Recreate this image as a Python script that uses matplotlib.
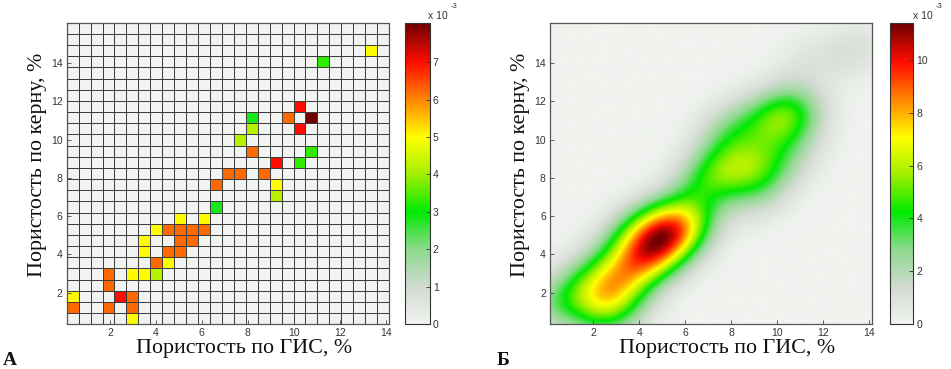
import numpy as np
import matplotlib
matplotlib.use("Agg")
import matplotlib.pyplot as plt
from matplotlib.colors import LinearSegmentedColormap

# ---------------- data ----------------
N_BINS = 27
X_RANGE = (0.12, 14.15)
Y_RANGE = (0.35, 16.1)

# occupied 2-D histogram cells (column / row index from lower-left) and value (x 1e-3)
cell_col = [25, 21, 19, 18, 20, 15, 15, 19, 14, 15, 20, 17, 19, 13, 14, 16, 12, 17, 17, 12,
            9, 11, 7, 8, 9, 10, 11, 6, 9, 10, 6, 8, 9, 7, 8, 3, 5, 6, 7, 3, 0, 4, 5, 0, 3, 5, 5]
cell_row = [24, 23, 19, 18, 18, 18, 17, 17, 16, 15, 15, 14, 14, 13, 13, 13, 12, 12, 11, 10,
            9, 9, 8, 8, 8, 8, 8, 7, 7, 7, 6, 6, 6, 5, 5, 4, 4, 4, 4, 3, 2, 2, 2, 1, 1, 1, 0]
cell_val = [5.0, 3.3, 7.0, 6.2, 8.05, 2.8, 4.2, 7.0, 4.2, 6.2, 3.3, 7.0, 3.3, 6.2, 6.2, 6.2, 6.2, 5.0, 4.2, 2.8,
            5.0, 5.0, 5.0, 6.2, 6.2, 6.2, 6.2, 5.0, 6.2, 6.2, 5.0, 6.2, 6.2, 6.2, 5.0, 6.2, 5.0, 5.0, 4.2, 6.2,
            5.0, 7.0, 6.2, 6.2, 6.2, 6.2, 5.0]

VMAX_A = 8.05      # x 1e-3
PEAK_B = 11.4      # x 1e-3
cbar_ticks_a = [0, 1, 2, 3, 4, 5, 6, 7]
cbar_ticks_b = [0, 2, 4, 6, 8, 10]
axis_ticks = [2, 4, 6, 8, 10, 12, 14]

xlabel_text = "Пористость по ГИС, %"
ylabel_text = "Пористость по керну, %"
panel_labels = ["А", "Б"]

# ---------------- colormap ----------------
cm_nodes = [0.0, 0.12, 0.25, 0.37, 0.5, 0.62, 0.74, 0.87, 1.0]
cm_colors = ["#f0f3ef", "#d2dbd1", "#8cd98c", "#00ea00", "#a6ef00", "#ffff00",
             "#ff8a00", "#ff0c00", "#6e0000"]
cmap = LinearSegmentedColormap.from_list("mcm", list(zip(cm_nodes, cm_colors)))

# ---------------- grids ----------------
xe = np.linspace(X_RANGE[0], X_RANGE[1], N_BINS + 1)
ye = np.linspace(Y_RANGE[0], Y_RANGE[1], N_BINS + 1)
H = np.zeros((N_BINS, N_BINS))
for c, r, v in zip(cell_col, cell_row, cell_val):
    H[r, c] = v

# kernel density of the same cells for panel Б (kernel slightly elongated along the diagonal)
xc = 0.5 * (xe[:-1] + xe[1:])
yc = 0.5 * (ye[:-1] + ye[1:])
px = xc[np.array(cell_col)]
py = yc[np.array(cell_row)]
w = np.array(cell_val)
BW_ALONG, BW_ACROSS = 1.15, 0.95
gx = np.linspace(X_RANGE[0], X_RANGE[1], 400)
gy = np.linspace(Y_RANGE[0], Y_RANGE[1], 400)
GX, GY = np.meshgrid(gx, gy)
D = np.zeros_like(GX)
for x0, y0, wi in zip(px, py, w):
    dx, dy = GX - x0, GY - y0
    u = (dx + dy) / np.sqrt(2)
    v = (dy - dx) / np.sqrt(2)
    D += wi * np.exp(-0.5 * ((u / BW_ALONG) ** 2 + (v / BW_ACROSS) ** 2))
D = D / D.max() * PEAK_B

# ---------------- figure ----------------
W, Hh = 951, 369
fig = plt.figure(figsize=(W / 100, Hh / 100), dpi=100)

def fx(px_):
    return px_ / W

def fy(py_):
    return 1 - py_ / Hh

ax_top, ax_bot = 22.7, 324.3
axA = fig.add_axes([fx(66.7), fy(ax_bot), fx(389 - 66.7), (ax_bot - ax_top) / Hh])
caxA = fig.add_axes([fx(405), fy(ax_bot), fx(25), (ax_bot - ax_top) / Hh])
axB = fig.add_axes([fx(550), fy(ax_bot), fx(872.3 - 550), (ax_bot - ax_top) / Hh])
caxB = fig.add_axes([fx(890), fy(ax_bot), fx(23.5), (ax_bot - ax_top) / Hh])

mA = axA.pcolormesh(xe, ye, H, cmap=cmap, vmin=0, vmax=VMAX_A,
                    edgecolors="#3c3c3c", linewidth=0.72, antialiased=False)
mB = axB.imshow(D, cmap=cmap, vmin=0, vmax=PEAK_B, origin="lower",
                extent=[X_RANGE[0], X_RANGE[1], Y_RANGE[0], Y_RANGE[1]],
                aspect="auto", interpolation="bilinear")

for ax in (axA, axB):
    ax.set_xlim(*X_RANGE)
    ax.set_ylim(*Y_RANGE)
    ax.set_xticks(axis_ticks)
    ax.set_yticks(axis_ticks)
    ax.tick_params(direction="in", length=3, width=0.6, color="#444444", pad=3,
                   labelsize=7.5, labelcolor="#333333")
    for lab in ax.get_xticklabels() + ax.get_yticklabels():
        lab.set_family("Liberation Sans")
    for s in ax.spines.values():
        s.set_color("#555555")
        s.set_linewidth(0.9)

for cax, m, ticks in ((caxA, mA, cbar_ticks_a), (caxB, mB, cbar_ticks_b)):
    cb = fig.colorbar(m, cax=cax)
    cb.set_ticks(ticks)
    cb.ax.tick_params(direction="in", length=3, width=0.6, color="#333333",
                      labelsize=7.5, labelcolor="#333333", pad=2)
    for lab in cb.ax.get_yticklabels():
        lab.set_family("Liberation Sans")
    cb.outline.set_color("#333333")
    cb.outline.set_linewidth(0.8)

# colorbar multipliers
for xpx, ypx in ((428, 16), (913, 16)):
    fig.text(fx(xpx), fy(ypx), "x 10", fontsize=7.5, family="Liberation Sans",
             color="#333333", ha="left", va="center")
    fig.text(fx(xpx + 23), fy(ypx - 10), "-3", fontsize=5.5, family="Liberation Sans",
             color="#333333", ha="left", va="center")

# axis labels
serif = "Liberation Serif"
for cx in (244.5, 727):
    fig.text(fx(cx), fy(353), xlabel_text, fontsize=15.8, family=serif,
             ha="center", va="baseline", color="#111111")
for cx in (37.5, 520):
    fig.text(fx(cx), fy(165), ylabel_text, fontsize=15.8, family=serif,
             rotation=90, ha="center", va="center", color="#111111")

fig.text(fx(3), fy(365), panel_labels[0], fontsize=14, family=serif,
         weight="bold", ha="left", va="baseline", color="#111111")
fig.text(fx(497), fy(365), panel_labels[1], fontsize=14, family=serif,
         weight="bold", ha="left", va="baseline", color="#111111")

fig.savefig("out.png", dpi=100)
